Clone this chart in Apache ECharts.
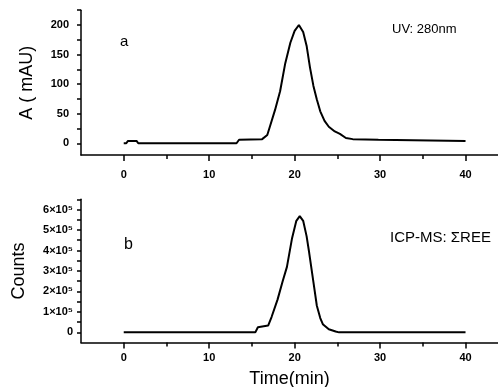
<!DOCTYPE html>
<html>
<head>
<meta charset="utf-8">
<script src="https://cdn.jsdelivr.net/npm/echarts@6/dist/echarts.min.js"></script>
<style>html,body{margin:0;padding:0;background:#fff}#c{width:498px;height:387px}</style>
</head>
<body>
<div id="c"></div>
<script>
// Panel a: UV 280 nm absorbance
const timeA = [0, 0.3, 0.5, 1.5, 1.7, 13.2, 13.5, 16.2, 16.8, 17.1, 17.7, 18.3, 18.9, 19.5, 20.0, 20.5, 21.0, 21.4, 21.8, 22.2, 22.6, 23.0, 23.5, 24.0, 24.7, 25.3, 26.0, 26.8, 29.8, 30.0, 40];
const absA  = [0, 0, 4, 4, 0, 0, 6, 7, 14, 28, 56, 88, 135, 170, 190, 200, 188, 165, 128, 97, 74, 54, 38, 28, 20, 16, 9, 7, 6, 4, 4];
// Panel b: ICP-MS sum of REE counts
const timeB   = [0, 15.4, 15.7, 16.9, 17.3, 18.0, 18.6, 19.1, 19.7, 20.2, 20.6, 21.0, 21.4, 21.7, 22.2, 22.6, 23.0, 23.3, 24.0, 24.8, 25.2, 40];
const countsB = [0, 0, 25000, 33000, 75000, 160000, 250000, 320000, 460000, 545000, 568000, 545000, 470000, 390000, 245000, 130000, 70000, 40000, 15000, 4000, 0, 0];
// Axis ticks / labels
const xMajor = [0, 10, 20, 30, 40];
const xMinor = [5, 15, 25, 35];
const yTicksA = [0, 25, 50, 75, 100, 125, 150, 175, 200, 225];
const yLabelsA = [0, 50, 100, 150, 200];
const yTicksB = [0, 50000, 100000, 150000, 200000, 250000, 300000, 350000, 400000, 450000, 500000, 550000, 600000, 650000];
const yLabelsB = [0, 100000, 200000, 300000, 400000, 500000, 600000];
const supers = {'0':'⁰','1':'¹','2':'²','3':'³','4':'⁴','5':'⁵','6':'⁶','7':'⁷','8':'⁸','9':'⁹'};

const pairs = (xs, ys) => xs.map((x, i) => [x, ys[i]]);
const black = '#000';
const tickFont = {color: black, fontSize: 11, fontWeight: 'bold', fontFamily: 'Liberation Sans, Arial, sans-serif'};
const nameFont = {color: black, fontSize: 18, fontFamily: 'Liberation Sans, Arial, sans-serif'};

function xAxes(gridIndex, labelMargin, name) {
  return [
    {type: 'value', gridIndex, min: -5, max: 43.8, position: 'bottom',
     axisLine: {show: true, onZero: false, lineStyle: {color: black, width: 1.5}},
     axisTick: {show: true, customValues: xMajor, length: 6, lineStyle: {color: black, width: 1.5}},
     axisLabel: Object.assign({show: true, customValues: xMajor, margin: labelMargin}, tickFont),
     splitLine: {show: false},
     name: name || '', nameLocation: 'middle', nameGap: 27, nameTextStyle: nameFont},
    {type: 'value', gridIndex, min: -5, max: 43.8, position: 'bottom',
     axisLine: {show: false, onZero: false},
     axisTick: {show: true, customValues: xMinor, length: 4, lineStyle: {color: black, width: 1.5}},
     axisLabel: {show: false}, splitLine: {show: false}}
  ];
}

const option = {
  backgroundColor: '#fff',
  animation: false,
  grid: [
    {left: 81, right: 0, top: 10.2, bottom: 231.9, outerBoundsMode: 'none', containLabel: false},
    {left: 81, right: 0, top: 199.3, bottom: 44.4, outerBoundsMode: 'none', containLabel: false}
  ],
  xAxis: [...xAxes(0, 14), ...xAxes(1, 10, 'Time(min)')],
  yAxis: [
    {type: 'value', gridIndex: 0, min: -20, max: 225,
     axisLine: {show: true, onZero: false, lineStyle: {color: black, width: 1.5}},
     axisTick: {show: true, customValues: yTicksA, length: 4, lineStyle: {color: black, width: 1.5}},
     axisLabel: Object.assign({show: true, customValues: yLabelsA, margin: 12}, tickFont),
     splitLine: {show: false},
     name: 'A ( mAU)', nameLocation: 'middle', nameGap: 45, nameTextStyle: nameFont},
    {type: 'value', gridIndex: 1, min: -50000, max: 650000,
     axisLine: {show: true, onZero: false, lineStyle: {color: black, width: 1.5}},
     axisTick: {show: true, customValues: yTicksB, length: 4, lineStyle: {color: black, width: 1.5}},
     axisLabel: Object.assign({show: true, customValues: yLabelsB, margin: 8,
       formatter: v => v === 0 ? '0' : (v / 100000) + '×10' + supers['5']}, tickFont),
     splitLine: {show: false},
     name: 'Counts', nameLocation: 'middle', nameGap: 53, nameTextStyle: nameFont}
  ],
  series: [
    {type: 'line', xAxisIndex: 0, yAxisIndex: 0, data: pairs(timeA, absA), showSymbol: false,
     lineStyle: {color: black, width: 2}},
    {type: 'line', xAxisIndex: 2, yAxisIndex: 1, data: pairs(timeB, countsB), showSymbol: false,
     lineStyle: {color: black, width: 2}}
  ],
  graphic: [
    {type: 'text', left: 120, top: 34, style: {text: 'a', font: '15px Liberation Sans, Arial, sans-serif', fill: black}},
    {type: 'text', left: 392, top: 23, style: {text: 'UV: 280nm', font: '13px Liberation Sans, Arial, sans-serif', fill: black}},
    {type: 'text', left: 124, top: 237, style: {text: 'b', font: '16px Liberation Sans, Arial, sans-serif', fill: black}},
    {type: 'text', left: 390, top: 230, style: {text: 'ICP-MS: ΣREE', font: '15px Liberation Sans, Arial, sans-serif', fill: black}}
  ]
};
echarts.init(document.getElementById('c'), null, {renderer: 'canvas'}).setOption(option);
</script>
</body>
</html>
